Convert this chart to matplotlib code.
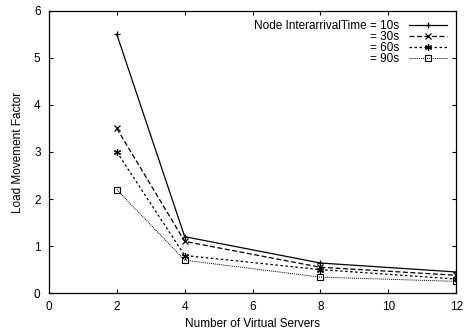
import matplotlib
matplotlib.use('Agg')
import matplotlib.pyplot as plt

servers = [2, 4, 8, 12]
load_10s = [5.5, 1.2, 0.64, 0.45]
load_30s = [3.5, 1.1, 0.55, 0.38]
load_60s = [3.0, 0.8, 0.5, 0.3]
load_90s = [2.2, 0.7, 0.34, 0.25]
labels = ['Node InterarrivalTime = 10s', '= 30s', '= 60s', '= 90s']

plt.rcParams['font.family'] = ['Liberation Sans', 'DejaVu Sans']
plt.rcParams['font.size'] = 8.5

fig = plt.figure(figsize=(4.66, 3.29), dpi=100)
ax = fig.add_axes([0.105, 0.109, 0.874, 0.858])

ax.plot(servers, load_10s, color='k', lw=0.9, ls='-', marker='+', ms=5, mew=0.9, label=labels[0])
ax.plot(servers, load_30s, color='k', lw=0.9, ls=(0, (4, 2)), marker='x', ms=4, mew=0.9, label=labels[1])
ax.plot(servers, load_60s, color='k', lw=0.9, ls=(0, (2, 2)), marker=(6, 2, 0), ms=5, mew=0.9, label=labels[2])
ax.plot(servers, load_90s, color='k', lw=0.7, ls=(0, (1, 1)), marker='s', ms=4.5, mfc='none', mew=0.8, label=labels[3])

ax.set_xlim(0, 12)
ax.set_ylim(0, 6)
ax.set_xticks(range(0, 13, 2))
ax.set_yticks(range(0, 7))
ax.tick_params(direction='in', top=True, right=True, length=3, width=0.8)
ax.tick_params(axis='x', pad=6)
ax.tick_params(axis='y', pad=6)
for s in ax.spines.values():
    s.set_linewidth(0.9)
ax.set_xlabel('Number of Virtual Servers', labelpad=3)
ax.set_ylabel('Load Movement Factor', labelpad=7)

ax.legend(loc='upper right', frameon=False, markerfirst=False, handlelength=3.2,
          labelspacing=-0.1, handletextpad=0.8, borderaxespad=0.4)

fig.savefig('out.png', dpi=100)
